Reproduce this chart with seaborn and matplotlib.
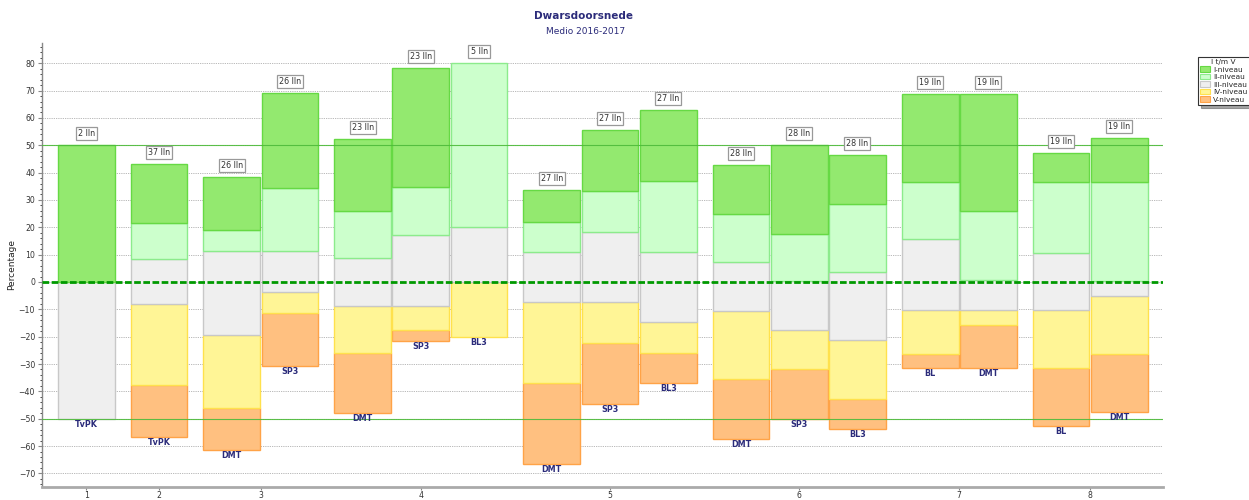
import numpy as np
import pandas as pd
import matplotlib
matplotlib.use('Agg')
import matplotlib.pyplot as plt
from matplotlib.patches import Patch
from matplotlib.ticker import MultipleLocator
import seaborn as sns

# --- data ---
groep = [1, 2, 3, 3, 4, 4, 4, 5, 5, 5, 6, 6, 6, 7, 7, 8, 8]
type_lab = ['TvPK', 'TvPK', 'DMT', 'SP3', 'DMT', 'SP3', 'BL3', 'DMT', 'SP3', 'BL3',
            'DMT', 'SP3', 'BL3', 'BL', 'DMT', 'BL', 'DMT']
aantal_lln = [2, 37, 26, 26, 23, 23, 5, 27, 27, 27, 28, 28, 28, 19, 19, 19, 19]
niveau_1 = [50.0, 21.6, 19.5, 34.6, 26.2, 43.8, 0.0, 11.5, 22.3, 26.2, 17.8, 32.4, 18.0, 32.0, 42.6, 10.7, 15.9]
niveau_2 = [0.0, 13.1, 7.6, 23.1, 17.3, 17.5, 60.0, 11.0, 14.9, 25.9, 17.7, 17.3, 24.6, 20.9, 25.2, 26.0, 36.3]
niveau_3 = [50.0, 16.4, 30.7, 15.1, 17.5, 25.9, 20.0, 18.2, 25.6, 25.4, 17.8, 18.0, 25.1, 26.0, 11.1, 20.9, 5.5]
niveau_4 = [0.0, 29.9, 26.9, 7.7, 17.2, 8.6, 20.0, 29.8, 14.9, 11.3, 25.0, 14.3, 21.5, 16.1, 5.4, 21.2, 21.2]
niveau_5 = [0.0, 19.0, 15.3, 19.5, 21.8, 4.2, 0.0, 29.5, 22.3, 11.2, 21.7, 18.0, 10.8, 5.0, 15.7, 21.2, 21.1]
onderkant = [-50.0, -56.8, -61.5, -30.9, -47.8, -21.6, -20.0, -66.5, -44.5, -37.0,
             -57.3, -50.0, -53.6, -31.4, -31.4, -52.7, -47.5]

niveau_namen = ['I-niveau', 'II-niveau', 'III-niveau', 'IV-niveau', 'V-niveau']
vulkleur = ['#93E96F', '#CCFFCC', '#EFEFEF', '#FFF596', '#FFC080']
randkleur = ['#66D944', '#8CEB8C', '#C8C8C8', '#FFE14D', '#FFA347']

# x positions: one unit per bar, extra gap between groups
GAP = 0.25
pos = np.arange(len(groep)) + GAP * (np.array(groep) - 1)

df = pd.DataFrame({'pos': pos, 'groep': groep,
                   'n1': niveau_1, 'n2': niveau_2, 'n3': niveau_3,
                   'n4': niveau_4, 'n5': niveau_5, 'onder': onderkant})

sns.set_theme(style='white')
plt.rcParams['font.family'] = ['DejaVu Sans']

fig = plt.figure(figsize=(12.49, 5.0), dpi=100)
ax = fig.add_axes([0.0336, 0.027, 0.8975, 0.887])

# stack from the bottom: V, IV, III, II, I
onder = df['onder'].to_numpy().copy()
for i in [4, 3, 2, 1, 0]:
    col = 'n%d' % (i + 1)
    sns.barplot(data=df, x='pos', y=col, native_scale=True, bottom=onder.copy(),
                color=vulkleur[i], edgecolor=randkleur[i], linewidth=1.0,
                saturation=1, width=0.975, errorbar=None, ax=ax, zorder=2)
    for patch, h in zip(ax.containers[-1], df[col]):
        if h == 0:
            patch.set_visible(False)
    onder = onder + df[col].to_numpy()

top = df['onder'].to_numpy() + 100

# labels above / below each bar
for x, t, b, n, lab in zip(pos, top, df['onder'], aantal_lln, type_lab):
    ax.text(x, t + 4.2, '%d lln' % n, ha='center', va='center', fontsize=5.8,
            color='#333333', zorder=5,
            bbox=dict(boxstyle='square,pad=0.25', fc='white', ec='#999999', lw=0.9))
    ax.text(x, b - 2.0, lab, ha='center', va='center', fontsize=5.8,
            color='#2B2B7A', fontweight='bold', zorder=5)

# reference lines
ax.axhline(50, color='#4DBB3A', lw=0.8, alpha=0.9, zorder=4)
ax.axhline(-50, color='#4DBB3A', lw=0.8, alpha=0.9, zorder=4)
ax.axhline(0, color='#009900', lw=2.0, linestyle=(0, (2.4, 0.9)), zorder=6)

# axes
ax.set_ylim(-74.8, 87.4)
ax.set_xlim(-0.76, 18.5)
ax.set_yticks(range(-70, 81, 10))
ax.yaxis.set_minor_locator(MultipleLocator(2))
ax.yaxis.grid(True, which='major', linestyle=(0, (1.5, 1.2)), color='#B0B0B0', lw=0.6, zorder=0)
ax.set_axisbelow(True)

centra = df.groupby('groep')['pos'].mean()
ax.set_xticks(centra.to_numpy())
ax.set_xticklabels([str(g) for g in centra.index])

ax.tick_params(axis='both', labelsize=5.6, labelcolor='#333333', colors='#888888')
ax.tick_params(axis='y', which='major', left=True, length=3, width=0.8, pad=2)
ax.tick_params(axis='y', which='minor', left=True, length=1.5, width=0.6)
ax.tick_params(axis='x', which='major', bottom=True, length=2.5, width=0.8, pad=1)

ax.set_xlabel('')
ax.set_ylabel('Percentage', fontsize=6.5, color='#222222')
ax.yaxis.set_label_coords(-0.0232, 0.5)

sns.despine(ax=ax, top=True, right=True)
ax.spines['left'].set_color('#888888')
ax.spines['left'].set_linewidth(1.0)
ax.spines['bottom'].set_color('#AAAAAA')
ax.spines['bottom'].set_linewidth(2.0)

# titles
fig.text(0.4675, 0.968, 'Dwarsdoorsnede', ha='center', va='center', fontsize=7.5,
         fontweight='bold', color='#2B2B7A')
fig.text(0.4685, 0.936, 'Medio 2016-2017', ha='center', va='center', fontsize=6.5,
         color='#2B2B7A')

# legend (clipped by the right edge like the original)
handles = [Patch(facecolor=vulkleur[i], edgecolor=randkleur[i], lw=0.8) for i in range(5)]
leg = fig.legend(handles, niveau_namen, title='I t/m V', loc='upper left',
                 bbox_to_anchor=(0.959, 0.886), fontsize=5.3, title_fontsize=5.3,
                 frameon=True, fancybox=False, shadow=True, edgecolor='#333333',
                 handlelength=1.3, handleheight=0.8, handletextpad=0.5,
                 labelspacing=0.15, borderpad=0.3, borderaxespad=0)
leg.get_frame().set_linewidth(0.8)

fig.savefig('out.png', dpi=100)
